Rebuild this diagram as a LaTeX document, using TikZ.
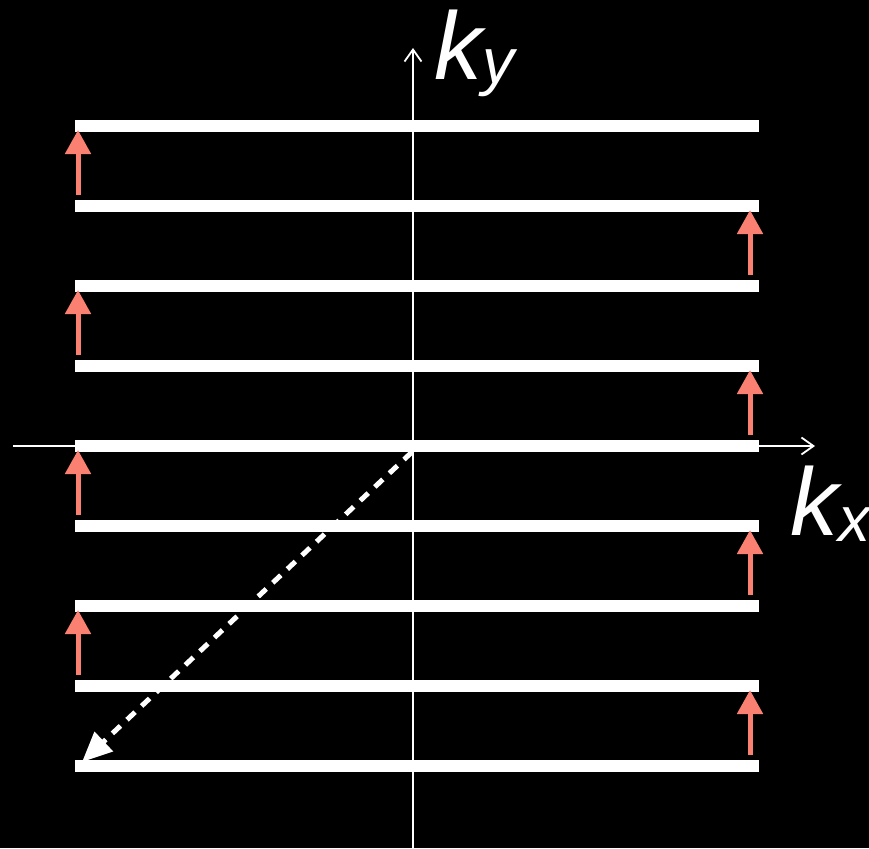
\documentclass[tikz,border=0pt]{standalone}
\usepackage{fontspec}
\setmainfont{Liberation Sans}
\usepackage{tikz}
\usetikzlibrary{arrows.meta}
\definecolor{salmon}{RGB}{250,128,114}

\begin{document}
\begin{tikzpicture}[
      x=1pt, y=-1pt,
      band/.style={white, line width=12.5pt},
      axis/.style={white, line width=1.8pt, -{Straight Barb[length=12pt, width=17pt, line width=1.8pt]}},
      spin/.style={salmon, line width=5pt, -{Triangle[length=24pt, width=25pt]}},
      scatter/.style={white, line width=5pt, dash pattern=on 11pt off 9pt, -{Triangle[length=30pt, width=26pt]}},
      klabel/.style={white, inner sep=0pt, anchor=base west, font=\fontsize{96}{96}\selectfont\itshape}
  ]
    % --- Background and bounding box ---
    \fill[black] (0,0) rectangle (869,848);
    \useasboundingbox (0,0) rectangle (869,848);

    % --- Horizontal bands (k_y lines) ---
    \foreach \yb in {126,206,...,766} {
      \draw[band] (75,\yb) -- (759,\yb);
    }

    % --- Axes ---
    \coordinate (xstart) at (13,446);
    \coordinate (xend)   at (815,446);
    \coordinate (ystart) at (413,848);
    \coordinate (yend)   at (413,48);
    \draw[axis] (xstart) -- (xend);
    \draw[axis] (ystart) -- (yend);
    \node[klabel] (ky) at (434,80)  {k\raisebox{-4pt}{\fontsize{64}{64}\selectfont y}};
    \node[klabel] (kx) at (790,535) {k\raisebox{-6pt}{\fontsize{64}{64}\selectfont x}};

    % --- Blips, alternating left and right edge ---
    \foreach \yb in {126,286,446,606} {
      \coordinate (lt\yb) at (78,\yb+69);
      \coordinate (lh\yb) at (78,\yb+4);
      \draw[spin] (lt\yb) -- (lh\yb);
    }
    \foreach \yb in {206,366,526,686} {
      \coordinate (rt\yb) at (750,\yb+69);
      \coordinate (rh\yb) at (750,\yb+4);
      \draw[spin] (rt\yb) -- (rh\yb);
    }

    % --- Prephasing gradient (dashed) ---
    \coordinate (origin) at (412,452);
    \coordinate (corner) at (82,762);
    \draw[scatter] (origin) -- (corner);

  \end{tikzpicture}
\end{document}
